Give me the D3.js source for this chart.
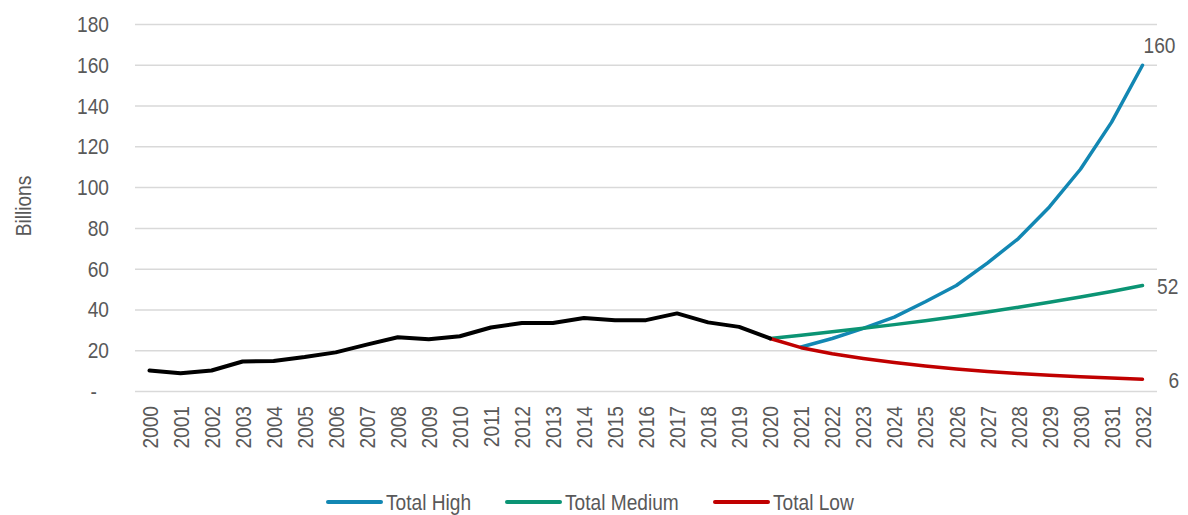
<!DOCTYPE html>
<html>
<head>
<meta charset="utf-8">
<script src="https://cdn.jsdelivr.net/npm/d3@7"></script>
<style>
  html, body { margin: 0; padding: 0; background: #fff; }
  svg { display: block; font-family: "Liberation Sans", Arial, sans-serif; }
  .tick text, .lbl { fill: #595959; font-size: 22px; }
</style>
</head>
<body>
<svg id="chart" width="1188" height="515"></svg>
<script>
// Years on the category axis
const years = d3.range(2000, 2033).map(String);

// Historical totals, 2000-2020 (billions)
const historical = [10.3, 9.0, 10.3, 14.7, 15.0, 16.9, 19.2, 23.0, 26.6, 25.6, 27.1,
                    31.4, 33.6, 33.6, 36.0, 35.0, 35.0, 38.3, 33.9, 31.7, 26.0];

// Projection scenarios
const highYears = d3.range(2021, 2033).map(String);
const highValues = [21.8, 26.0, 31.0, 36.5, 44.0, 52.0, 63.0, 75.0, 90.5, 109.0, 132.0, 160.0];

const projYears = d3.range(2020, 2033).map(String);
const mediumValues = [26.0, 27.6, 29.3, 31.0, 32.8, 34.7, 36.8, 39.0, 41.3, 43.8, 46.3, 49.0, 52.0];
const lowValues = [26.0, 21.5, 18.5, 16.2, 14.2, 12.5, 11.0, 9.8, 8.8, 8.0, 7.2, 6.6, 6.0];

const yTicks = [0, 20, 40, 60, 80, 100, 120, 140, 160, 180];

const seriesNames = ["Total High", "Total Medium", "Total Low"];
const seriesColors = ["#1287b3", "#0b9474", "#c00000"];

// Horizontal squeeze giving a condensed face
const NARROW = 0.87;

const svg = d3.select("#chart");

const x = d3.scalePoint().domain(years).range([149.5, 1142.5]);
const y = d3.scaleLinear().domain([0, 180]).range([391.5, 24.5]);
const plotLeft = 135, plotRight = 1157;

// Horizontal gridlines
svg.append("g")
  .selectAll("line")
  .data(yTicks)
  .join("line")
  .attr("x1", plotLeft).attr("x2", plotRight)
  .attr("y1", d => y(d)).attr("y2", d => y(d))
  .attr("stroke", "#d9d9d9").attr("stroke-width", 1.5);

// Value axis
const yAxis = svg.append("g")
  .attr("transform", `translate(${plotLeft},0)`)
  .call(d3.axisLeft(y).tickValues(yTicks).tickSize(0).tickPadding(27)
        .tickFormat(d => d === 0 ? "-" : d));
yAxis.select(".domain").remove();
yAxis.selectAll(".tick text")
  .attr("class", "lbl")
  .attr("x", 0)
  .attr("transform", d => `translate(${d === 0 ? -38 : -26},0) scale(${NARROW},1)`);

// Category axis with rotated year labels
const xAxis = svg.append("g")
  .attr("transform", "translate(0,406)")
  .call(d3.axisBottom(x).tickSize(0).tickPadding(0));
xAxis.select(".domain").remove();
xAxis.selectAll(".tick text")
  .attr("class", "lbl")
  .attr("transform", `rotate(-90) scale(${NARROW},1)`)
  .attr("text-anchor", "end")
  .attr("x", 0).attr("y", 0)
  .attr("dy", "0.35em");

// Axis title
svg.append("text")
  .attr("class", "lbl")
  .attr("transform", `translate(23,206) rotate(-90) scale(${NARROW},1)`)
  .attr("text-anchor", "middle")
  .attr("dy", "0.35em")
  .text("Billions");

const line = d3.line().x(d => x(d[0])).y(d => y(d[1])).curve(d3.curveLinear);

const high = highYears.map((yr, i) => [yr, highValues[i]]);
const medium = projYears.map((yr, i) => [yr, mediumValues[i]]);
const low = projYears.map((yr, i) => [yr, lowValues[i]]);
const hist = years.slice(0, historical.length).map((yr, i) => [yr, historical[i]]);

const lines = svg.append("g").attr("fill", "none").attr("stroke-linejoin", "round").attr("stroke-linecap", "round");
lines.append("path").attr("d", line(high)).attr("stroke", seriesColors[0]).attr("stroke-width", 3.5);
lines.append("path").attr("d", line(medium)).attr("stroke", seriesColors[1]).attr("stroke-width", 3.5);
lines.append("path").attr("d", line(low)).attr("stroke", seriesColors[2]).attr("stroke-width", 3.5);
lines.append("path").attr("d", line(hist)).attr("stroke", "#000").attr("stroke-width", 4);

// End-of-series value labels
const endLabels = [
  { pt: high[high.length - 1], dx: 1, dy: -20 },
  { pt: medium[medium.length - 1], dx: 14.5, dy: 1 },
  { pt: low[low.length - 1], dx: 26, dy: 1 }
];
svg.append("g").selectAll("text")
  .data(endLabels)
  .join("text")
  .attr("class", "lbl")
  .attr("transform", d => `translate(${x(d.pt[0]) + d.dx},${y(d.pt[1]) + d.dy}) scale(${NARROW},1)`)
  .attr("dy", "0.35em")
  .text(d => d3.format(".0f")(d.pt[1]));

// Legend
const legendX = [328, 507, 715];
const lg = svg.append("g").selectAll("g")
  .data(seriesNames)
  .join("g")
  .attr("transform", (d, i) => `translate(${legendX[i]},502)`);
lg.append("line")
  .attr("x1", 0).attr("x2", 53).attr("y1", 0).attr("y2", 0)
  .attr("stroke", (d, i) => seriesColors[i])
  .attr("stroke-width", 4).attr("stroke-linecap", "round");
lg.append("text")
  .attr("class", "lbl")
  .attr("transform", `translate(58,0) scale(${NARROW},1)`)
  .attr("dy", "0.35em")
  .text(d => d);
</script>
</body>
</html>
